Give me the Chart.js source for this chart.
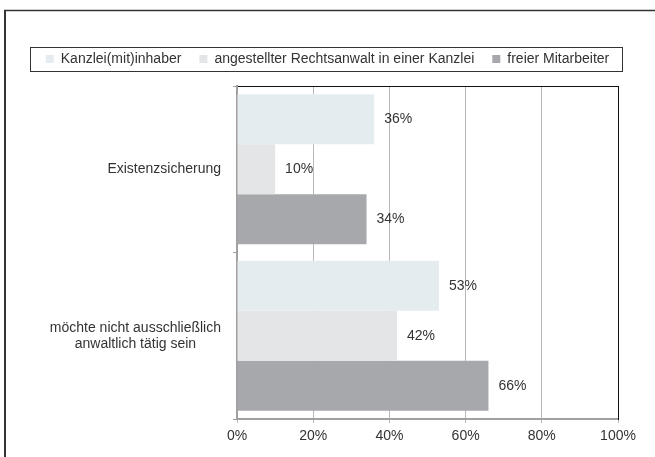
<!DOCTYPE html>
<html>
<head>
<meta charset="utf-8">
<script src="https://cdn.jsdelivr.net/npm/chart.js@4.4.0/dist/chart.umd.min.js"></script>
<style>
  html, body { margin: 0; padding: 0; background: #fff; }
  #wrap { width: 655px; height: 457px; }
</style>
</head>
<body>
<div id="wrap"><canvas id="grafik" width="655" height="457"></canvas></div>
<script>
const kategorien = ['Existenzsicherung', ['möchte nicht ausschließlich', 'anwaltlich tätig sein']];
const serien = ['Kanzlei(mit)inhaber', 'angestellter Rechtsanwalt in einer Kanzlei', 'freier Mitarbeiter'];
const inhaber = [36, 53];
const angestellt = [10, 42];
const frei = [34, 66];
const xTicks = [0, 20, 40, 60, 80, 100];

const schrift = '"Liberation Sans", Arial, sans-serif';
const textFarbe = '#333';
Chart.defaults.font.family = schrift;
Chart.defaults.font.size = 14;
Chart.defaults.color = textFarbe;

// aeusserer Rahmen (nur oben und links sichtbar)
const rahmen = {
  id: 'rahmen',
  beforeDraw(chart) {
    const ctx = chart.ctx;
    ctx.save();
    ctx.strokeStyle = '#333';
    ctx.lineWidth = 1.5;
    ctx.beginPath();
    ctx.moveTo(4, 10.5);
    ctx.lineTo(655, 10.5);
    ctx.stroke();
    ctx.lineWidth = 2;
    ctx.beginPath();
    ctx.moveTo(5, 10);
    ctx.lineTo(5, 457);
    ctx.stroke();
    ctx.restore();
  }
};

// Kasten um die Legende
const legendenKasten = {
  id: 'legendenKasten',
  afterDraw(chart) {
    const hb = chart.legend.legendHitBoxes;
    if (!hb || !hb.length) return;
    const last = hb[hb.length - 1];
    const l = Math.round(hb[0].left - 16);
    const r = Math.round(last.left + last.width + 13);
    const cy = hb[0].top + hb[0].height / 2;
    const ctx = chart.ctx;
    ctx.save();
    ctx.strokeStyle = '#333';
    ctx.lineWidth = 1;
    ctx.strokeRect(l + 0.5, Math.round(cy - 12) + 0.5, r - l, 24);
    ctx.restore();
  }
};

// Kategorienbeschriftung, rechtsbuendig als Block, Zeilen zentriert
const kategorieText = {
  id: 'kategorieText',
  afterDraw(chart) {
    const ctx = chart.ctx;
    const sy = chart.scales.y;
    ctx.save();
    ctx.font = '14px ' + schrift;
    ctx.fillStyle = textFarbe;
    ctx.textAlign = 'center';
    ctx.textBaseline = 'middle';
    kategorien.forEach((lab, i) => {
      const zeilen = Array.isArray(lab) ? lab : [lab];
      const w = Math.max(...zeilen.map(t => ctx.measureText(t).width));
      const cx = sy.right - 16 - w / 2;
      const cy = sy.getPixelForValue(i);
      zeilen.forEach((t, k) => {
        ctx.fillText(t, cx, cy + (k - (zeilen.length - 1) / 2) * 16);
      });
    });
    ctx.restore();
  }
};

// Prozentwerte rechts neben den Balken
const wertText = {
  id: 'wertText',
  afterDatasetsDraw(chart) {
    const ctx = chart.ctx;
    ctx.save();
    ctx.font = '14px ' + schrift;
    ctx.fillStyle = textFarbe;
    ctx.textAlign = 'left';
    ctx.textBaseline = 'middle';
    chart.data.datasets.forEach((ds, i) => {
      chart.getDatasetMeta(i).data.forEach((bar, j) => {
        ctx.fillText(ds.data[j] + '%', bar.x + 10, bar.y);
      });
    });
    ctx.restore();
  }
};

new Chart(document.getElementById('grafik'), {
  type: 'bar',
  data: {
    labels: kategorien,
    datasets: [
      { label: serien[0], data: inhaber, backgroundColor: '#e4ecf0' },
      { label: serien[1], data: angestellt, backgroundColor: '#e4e5e7' },
      { label: serien[2], data: frei, backgroundColor: '#a7a8ab' }
    ]
  },
  options: {
    indexAxis: 'y',
    responsive: false,
    animation: false,
    layout: { padding: { top: 34, left: 0, right: 0, bottom: 0 } },
    datasets: { bar: { categoryPercentage: 0.9, barPercentage: 1.0, borderWidth: 0 } },
    plugins: {
      legend: {
        position: 'top',
        labels: { boxWidth: 8, boxHeight: 8, padding: 18, color: textFarbe, font: { size: 14 } }
      },
      tooltip: { enabled: false }
    },
    scales: {
      x: {
        type: 'linear',
        min: xTicks[0],
        max: xTicks[xTicks.length - 1],
        afterBuildTicks: s => { s.ticks = xTicks.map(v => ({ value: v })); },
        ticks: { callback: v => v + '%', padding: 5, color: textFarbe, font: { size: 14 } },
        grid: { color: '#b8b8b8', lineWidth: 1, tickLength: 4 },
        border: { color: '#a0a0a0', width: 2 },
        afterFit: s => { s.height = 38; }
      },
      x2: {
        type: 'linear',
        position: 'top',
        min: 0,
        max: 100,
        grid: { display: false },
        ticks: { display: false },
        border: { color: '#111', width: 1 },
        afterFit: s => { s.height = 10; }
      },
      y: {
        type: 'category',
        ticks: { display: false },
        grid: { drawOnChartArea: false, offset: true, tickLength: 4, color: '#a0a0a0' },
        border: { color: '#a0a0a0', width: 2 },
        afterFit: s => { s.width = 237; }
      },
      y2: {
        type: 'category',
        position: 'right',
        grid: { display: false },
        ticks: { display: false },
        border: { color: '#111', width: 1 },
        afterFit: s => { s.width = 37; }
      }
    }
  },
  plugins: [rahmen, legendenKasten, kategorieText, wertText]
});
</script>
</body>
</html>
